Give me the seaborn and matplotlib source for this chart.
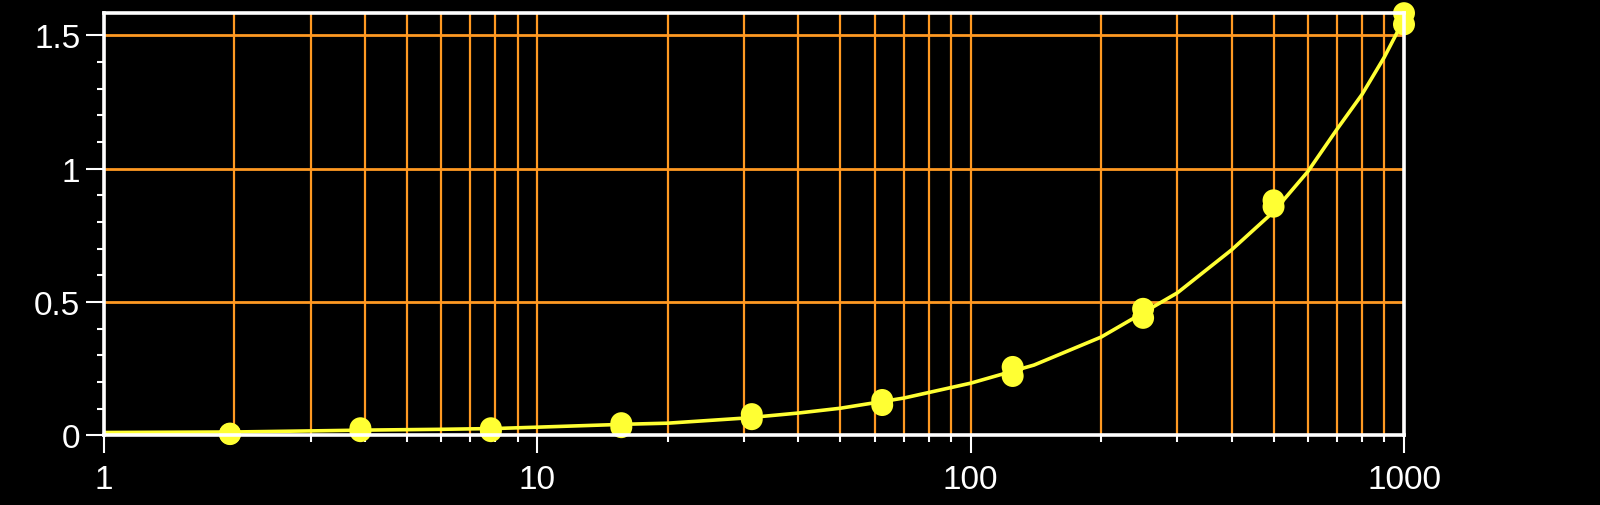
import pandas as pd
import matplotlib
matplotlib.use('Agg')
import matplotlib.pyplot as plt
import seaborn as sns
from matplotlib.ticker import LogLocator, MultipleLocator, FixedLocator, FuncFormatter, NullFormatter

# 稀释浓度（两次重复）
conc = [1000, 500, 250, 125, 62.5, 31.25, 15.625, 7.8125, 3.90625, 1.953125]
rep1 = [1.583, 0.881, 0.474, 0.256, 0.132, 0.079, 0.045, 0.026, 0.026, 0.006]
rep2 = [1.541, 0.857, 0.440, 0.222, 0.113, 0.060, 0.030, 0.015, 0.015, 0.004]

# 拟合曲线
fit_x = [1, 2, 3, 4, 6, 8, 10, 16, 20, 30, 40, 50, 70, 100, 140, 200,
         300, 400, 500, 600, 700, 800, 900, 1000]
fit_y = [0.010, 0.012, 0.016, 0.019, 0.022, 0.025, 0.030, 0.041, 0.045, 0.064,
         0.083, 0.101, 0.139, 0.195, 0.263, 0.368, 0.534, 0.695, 0.838, 0.989,
         1.147, 1.278, 1.417, 1.560]

x_ticks = [1, 10, 100, 1000]
y_ticks = [0, 0.5, 1, 1.5]

pts = pd.DataFrame({'conc': conc + conc, 'od': rep1 + rep2})
fit = pd.DataFrame({'x': fit_x, 'y': fit_y})

sns.set_style('dark')
plt.rcParams['font.family'] = ['Liberation Sans', 'DejaVu Sans']

fig = plt.figure(figsize=(16, 5.06), dpi=100, facecolor='black')
ax = fig.add_axes([0.065, 0.138, 0.8125, 0.834])
ax.set_facecolor('black')

orange = '#FF9922'
yellow = '#FFFF33'

ax.set_xscale('log')
ax.set_xlim(1, 1000)
ax.set_ylim(0, 1.583)

# 网格
ax.xaxis.set_major_locator(FixedLocator(x_ticks))
ax.xaxis.set_minor_locator(LogLocator(base=10, subs=range(2, 10)))
ax.xaxis.set_minor_formatter(NullFormatter())
ax.xaxis.set_major_formatter(FuncFormatter(lambda v, p: f'{v:g}'))
ax.yaxis.set_major_locator(FixedLocator(y_ticks))
ax.yaxis.set_minor_locator(MultipleLocator(0.1))
ax.yaxis.set_major_formatter(FuncFormatter(lambda v, p: f'{v:g}'))
ax.grid(False)
ax.grid(True, which='both', axis='x', color=orange, lw=1.6)
ax.grid(True, which='major', axis='y', color=orange, lw=2.0)
ax.set_axisbelow(True)

sns.lineplot(x='x', y='y', data=fit, color=yellow, lw=2.6, ax=ax, zorder=3)
sns.scatterplot(x='conc', y='od', data=pts, color=yellow, s=250, edgecolor='none',
                ax=ax, zorder=4, clip_on=False)

for s in ax.spines.values():
    s.set_color('white')
    s.set_linewidth(2.6)
    s.set_visible(True)
    s.set_zorder(5)

ax.tick_params(which='major', colors='white', direction='out', length=13, width=1.5,
               labelsize=24, pad=8, bottom=True, left=True)
ax.tick_params(axis='y', which='major', pad=4)
ax.tick_params(which='minor', colors='white', direction='out', length=5, width=1.5,
               bottom=True, left=True)
ax.set_xlabel('')
ax.set_ylabel('')

fig.savefig('out.png', dpi=100, facecolor='black')
